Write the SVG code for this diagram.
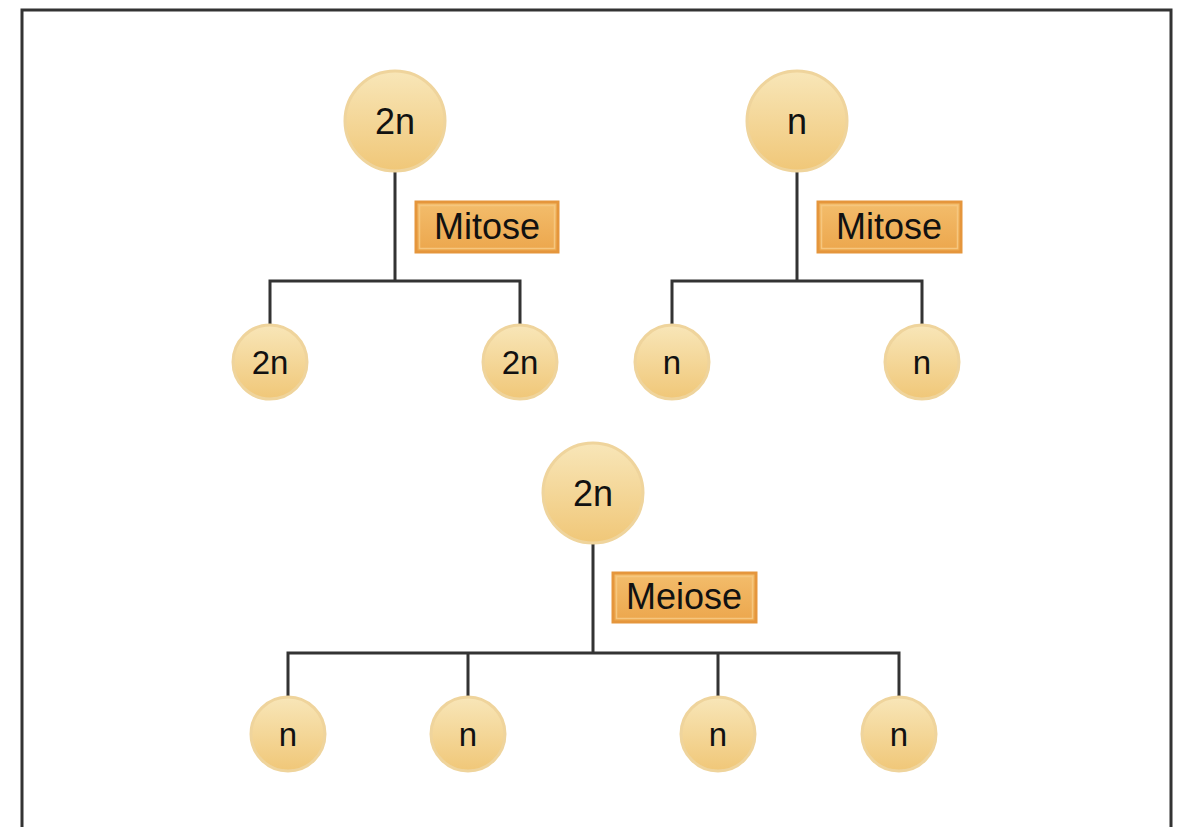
<svg xmlns="http://www.w3.org/2000/svg" width="1182" height="827" viewBox="0 0 1182 827">
<defs>
<linearGradient id="cg" x1="0" y1="0" x2="0" y2="1">
<stop offset="0" stop-color="#f8e6b8"/>
<stop offset="1" stop-color="#f0c778"/>
</linearGradient>
<linearGradient id="lg" x1="0" y1="0" x2="0" y2="1">
<stop offset="0" stop-color="#f3bd6c"/>
<stop offset="1" stop-color="#eca64c"/>
</linearGradient>
<style>
.cell{fill:url(#cg);stroke:#efd49c;stroke-width:3}
.ct{font-family:"Liberation Sans",Arial,sans-serif;font-size:36px;fill:#111;text-anchor:middle}
.cs{font-size:33px}
.lab{fill:url(#lg);stroke:#e5963c;stroke-width:3}
.lin{fill:none;stroke:#f6c67e;stroke-width:1.5}
.lt{font-family:"Liberation Sans",Arial,sans-serif;font-size:36px;fill:#111;text-anchor:middle}
.con{fill:none;stroke:#333;stroke-width:3}
</style>
</defs>
<rect width="1182" height="827" fill="#fff"/>
<path d="M22,840 V10 H1171 V840" fill="none" stroke="#333" stroke-width="3"/>
<g id="connectors">
<path class="con" d="M395,171 V281 M270,324 V281 H520 V324"/>
<path class="con" d="M797,171 V281 M672,324 V281 H922 V324"/>
<path class="con" d="M593,543 V653 M288,696 V653 H899 V696 M468,653 V696 M718,653 V696"/>
</g>
<g id="n1"><circle class="cell" cx="395" cy="121" r="50"/><text class="ct" x="395" y="134">2n</text></g>
<g id="n2"><circle class="cell" cx="797" cy="121" r="50"/><text class="ct" x="797" y="134">n</text></g>
<g id="n3"><circle class="cell" cx="270" cy="362" r="37"/><text class="ct cs" x="270" y="374">2n</text></g>
<g id="n4"><circle class="cell" cx="520" cy="362" r="37"/><text class="ct cs" x="520" y="374">2n</text></g>
<g id="n5"><circle class="cell" cx="672" cy="362" r="37"/><text class="ct cs" x="672" y="374">n</text></g>
<g id="n6"><circle class="cell" cx="922" cy="362" r="37"/><text class="ct cs" x="922" y="374">n</text></g>
<g id="n7"><circle class="cell" cx="593" cy="493" r="50"/><text class="ct" x="593" y="506">2n</text></g>
<g id="n8"><circle class="cell" cx="288" cy="734" r="37"/><text class="ct cs" x="288" y="746">n</text></g>
<g id="n9"><circle class="cell" cx="468" cy="734" r="37"/><text class="ct cs" x="468" y="746">n</text></g>
<g id="n10"><circle class="cell" cx="718" cy="734" r="37"/><text class="ct cs" x="718" y="746">n</text></g>
<g id="n11"><circle class="cell" cx="899" cy="734" r="37"/><text class="ct cs" x="899" y="746">n</text></g>
<g id="l1"><rect class="lab" x="416" y="202" width="142" height="50"/><rect class="lin" x="419.5" y="205.5" width="135" height="43"/><text class="lt" x="487" y="239">Mitose</text></g>
<g id="l2"><rect class="lab" x="818" y="202" width="143" height="50"/><rect class="lin" x="821.5" y="205.5" width="136" height="43"/><text class="lt" x="889" y="239">Mitose</text></g>
<g id="l3"><rect class="lab" x="613" y="573" width="143" height="49"/><rect class="lin" x="616.5" y="576.5" width="136" height="42"/><text class="lt" x="684" y="609">Meiose</text></g>
</svg>
